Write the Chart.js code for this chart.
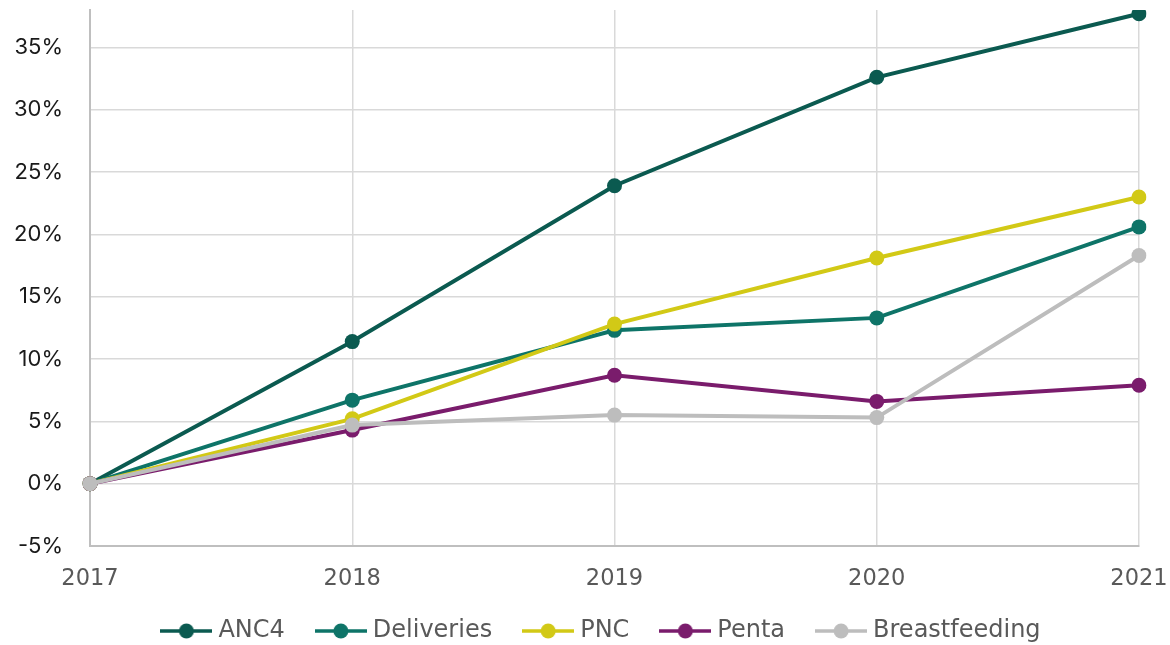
<!DOCTYPE html>
<html>
<head>
<meta charset="utf-8">
<script src="https://cdn.jsdelivr.net/npm/chart.js@4.4.1/dist/chart.umd.min.js"></script>
<style>
  html, body { margin: 0; padding: 0; background: #fff; }
  #wrap { width: 1170px; height: 645px; }
</style>
</head>
<body>
<div id="wrap"><canvas id="chart-line"></canvas></div>
<script>
/* Datos */
var anios = ["2017", "2018", "2019", "2020", "2021"];
var anc4 = [0, 11.4, 23.9, 32.6, 37.7];
var partos = [0, 6.7, 12.3, 13.3, 20.6];
var pnc = [0, 5.2, 12.8, 18.1, 23.0];
var penta = [0, 4.3, 8.7, 6.6, 7.9];
var lactancia = [0, 4.7, 5.5, 5.3, 18.3];

var nombres = ["ANC4", "Deliveries", "PNC", "Penta", "Breastfeeding"];
var colores = ["#0b5a50", "#0e7468", "#d2c916", "#7a1c6c", "#bdbdbd"];
var series = [anc4, partos, pnc, penta, lactancia];

/* Marcador de la leyenda: línea con punto */
function marcador(color){
  var c = document.createElement("canvas");
  c.width = 52;
  c.height = 18;
  var g = c.getContext("2d");
  g.strokeStyle = color;
  g.lineWidth = 3.5;
  g.beginPath();
  g.moveTo(0, 9);
  g.lineTo(52, 9);
  g.stroke();
  g.fillStyle = color;
  g.beginPath();
  g.arc(26, 9, 7.5, 0, Math.PI * 2);
  g.fill();
  return c;
}

var datasets = [];
for (let i = 0; i < series.length; i++) {
  datasets.push({
    label: nombres[i],
    data: series[i],
    borderColor: colores[i],
    backgroundColor: colores[i],
    pointBackgroundColor: colores[i],
    pointBorderWidth: 0,
    borderWidth: 4,
    pointRadius: 7.5,
    tension: 0,
    order: series.length - i
  });
}

/* Alto fijo de la leyenda y corrimiento */
var ajusteLeyenda = {
  id: "ajusteLeyenda",
  beforeLayout: function(chart){
    var ley = chart.legend;
    if (ley && !ley._fijo) {
      var fitOrig = ley.fit;
      ley.fit = function(){
        fitOrig.call(this);
        this.height = 56;
      };
      ley._fijo = true;
    }
  },
  afterLayout: function(chart){
    var ley = chart.legend;
    if (ley) {
      ley.left += 34;
      ley.right += 34;
      ley.top -= 6;
    }
  }
};

var ctx = document.getElementById("chart-line").getContext("2d");

new Chart(ctx, {
  type: "line",
  data: {
    labels: anios,
    datasets: datasets
  },
  plugins: [ajusteLeyenda],
  options: {
    responsive: true,
    maintainAspectRatio: false,
    animation: false,
    layout: {
      padding: { top: 10, right: 31, left: 0, bottom: 0 }
    },
    plugins: {
      tooltip: { enabled: false },
      legend: {
        position: "bottom",
        labels: {
          usePointStyle: true,
          pointStyleWidth: 40,
          padding: 36,
          color: "#595959",
          font: { size: 24, family: "DejaVu Sans" },
          sort: function(a, b){ return a.datasetIndex - b.datasetIndex; },
          generateLabels: function(chart){
            var items = Chart.defaults.plugins.legend.labels.generateLabels(chart);
            items.forEach(function(it){
              it.pointStyle = marcador(colores[it.datasetIndex]);
            });
            return items;
          }
        }
      }
    },
    scales: {
      x: {
        offset: false,
        grid: {
          display: true,
          color: "#d9d9d9",
          lineWidth: 1.5,
          drawTicks: false
        },
        border: { color: "#bfbfbf", width: 2 },
        ticks: {
          color: "#595959",
          padding: 20,
          maxRotation: 0,
          font: { size: 22.5, family: "DejaVu Sans" }
        },
        afterFit: function(scale){
          scale.height = 43;
          scale.paddingLeft = 0;
          scale.paddingRight = 0;
        }
      },
      y: {
        min: -5,
        max: 38,
        grid: {
          color: "#d9d9d9",
          lineWidth: 1.5,
          drawTicks: false
        },
        border: { color: "#bfbfbf", width: 2 },
        afterBuildTicks: function(scale){
          scale.ticks = scale.ticks.filter(function(t){ return t.value % 5 === 0; });
        },
        ticks: {
          stepSize: 5,
          color: "#1a1a1a",
          padding: 27,
          font: { size: 22, family: "Inter" },
          callback: function(v){ return v + "%"; }
        },
        afterFit: function(scale){
          scale.width = 90;
          scale.paddingTop = 0;
          scale.paddingBottom = 0;
        }
      }
    }
  }
});
</script>
</body>
</html>
